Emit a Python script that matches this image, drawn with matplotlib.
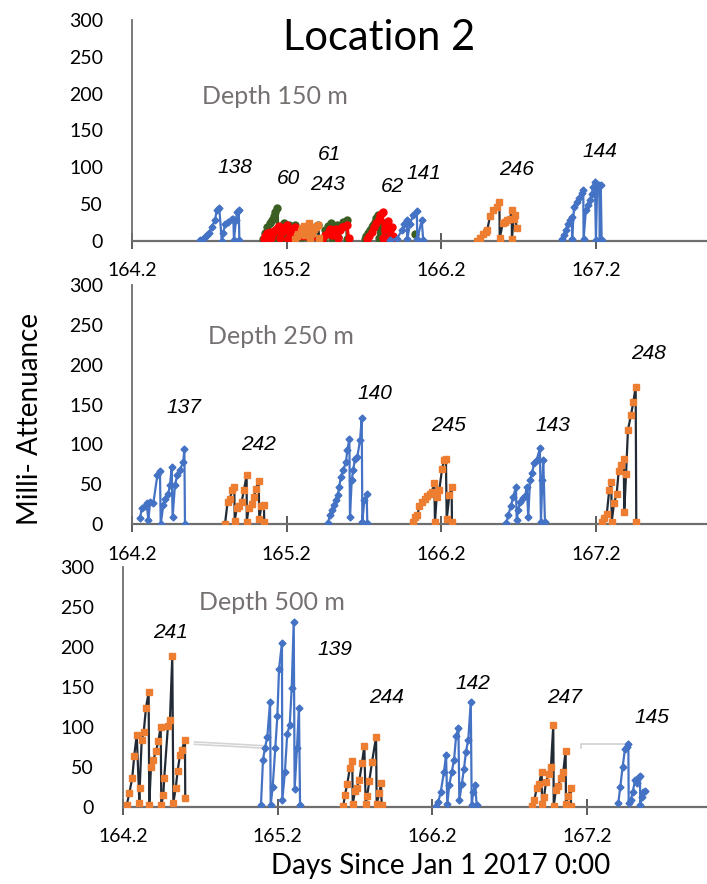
import numpy as np
import matplotlib.pyplot as plt

# ---- data (days since Jan 1 2017, milli-attenuance) ----

# Depth 150 m
s138_x = [164.638, 164.656, 164.671, 164.682, 164.696, 164.714, 164.736, 164.746, 164.763, 164.779,
          164.789, 164.800, 164.821, 164.843, 164.854, 164.858, 164.871, 164.879, 164.889, 164.893]
s138_y = [1, 2, 5, 8, 10, 19, 28, 42, 44, 0, 10, 23, 26, 29, 30, 1, 28, 39, 42, 1]

g60_x = [165.044, 165.060, 165.074, 165.090, 165.102, 165.114, 165.124, 165.139, 165.142, 165.156,
         165.170, 165.180, 165.190, 165.200, 165.215, 165.225, 165.240, 165.255, 165.260, 165.300,
         165.320, 165.340, 165.345, 165.360, 165.380, 165.400, 165.405, 165.436, 165.450, 165.469,
         165.485, 165.490, 165.500, 165.523, 165.530, 165.544, 165.566, 165.587, 165.590]
g60_y = [2, 10, 18, 24, 28, 34, 39, 44, 2, 12, 20, 24, 2, 14, 22, 2, 16, 22, 2, 5,
         14, 20, 3, 12, 18, 22, 3, 2, 14, 20, 24, 4, 18, 22, 5, 20, 25, 28, 2]

r61_x = [165.050, 165.060, 165.074, 165.090, 165.100, 165.110, 165.125, 165.140, 165.150, 165.155,
         165.170, 165.180, 165.190, 165.200, 165.210, 165.220, 165.235, 165.250, 165.255, 165.430,
         165.450, 165.470, 165.480, 165.490, 165.500, 165.520, 165.530, 165.545, 165.560, 165.575,
         165.590, 165.600]
r61_y = [2, 6, 10, 12, 4, 10, 14, 18, 20, 3, 12, 16, 19, 22, 2, 12, 16, 18, 3, 2,
         8, 13, 16, 8, 14, 16, 4, 14, 18, 20, 21, 3]

s243_x = [165.253, 165.265, 165.275, 165.290, 165.300, 165.311, 165.320, 165.330, 165.340, 165.345,
          165.350, 165.360, 165.375, 165.390, 165.400, 165.410]
s243_y = [2, 6, 9, 13, 17, 20, 8, 14, 20, 24, 4, 10, 16, 19, 21, 3]

g62_x = [165.706, 165.715, 165.727, 165.740, 165.749, 165.760, 165.770, 165.780, 165.790, 165.795,
         165.810, 165.820, 165.830, 165.835, 165.850, 165.860, 165.870]
g62_y = [2, 6, 10, 15, 18, 22, 26, 31, 35, 3, 14, 20, 24, 3, 10, 16, 3]
g_lone_x = [166.030]
g_lone_y = [9]

r62_x = [165.720, 165.735, 165.750, 165.765, 165.780, 165.795, 165.805, 165.815, 165.820, 165.825,
         165.835, 165.845, 165.855, 165.860, 165.870, 165.880, 165.885, 165.895]
r62_y = [2, 6, 12, 18, 24, 30, 35, 38, 39, 3, 14, 22, 27, 4, 14, 18, 6, 2]

s141_x = [165.868, 165.911, 165.944, 165.960, 165.976, 165.980, 165.997, 166.019, 166.041, 166.045,
          166.073, 166.083]
s141_y = [1, 2, 14, 23, 28, 2, 23, 35, 41, 2, 28, 1]

s246_x = [166.433, 166.450, 166.468, 166.490, 166.498, 166.515, 166.537, 166.559, 166.576, 166.578,
          166.598, 166.613, 166.628, 166.645, 166.656, 166.657, 166.668, 166.677, 166.688]
s246_y = [0, 4, 9, 12, 15, 33, 42, 46, 52, 3, 24, 26, 28, 30, 42, 2, 30, 35, 17]

s144_x = [166.979, 166.994, 167.007, 167.018, 167.033, 167.044, 167.047, 167.059, 167.076, 167.093,
          167.109, 167.119, 167.121, 167.136, 167.147, 167.162, 167.173, 167.183, 167.194, 167.201,
          167.209, 167.222, 167.226, 167.232, 167.238]
s144_y = [2, 8, 15, 23, 28, 32, 2, 46, 53, 58, 65, 69, 2, 42, 48, 55, 64, 73, 80, 1,
          74, 76, 1, 76, 1]

# Depth 250 m
s137_x = [164.250, 164.261, 164.282, 164.293, 164.304, 164.315, 164.336, 164.362, 164.379, 164.384,
          164.401, 164.414, 164.433, 164.444, 164.455, 164.461, 164.476, 164.491, 164.509, 164.530,
          164.537, 164.541]
s137_y = [7, 20, 22, 26, 5, 27, 26, 61, 67, 0, 24, 31, 38, 49, 71, 9, 49, 61, 68, 78, 94, 0]

s242_x = [164.800, 164.817, 164.832, 164.847, 164.860, 164.863, 164.876, 164.890, 164.908, 164.923,
          164.940, 164.941, 164.953, 164.973, 164.988, 164.999, 165.018, 165.022, 165.035, 165.052,
          165.054]
s242_y = [0, 28, 32, 43, 47, 4, 20, 23, 28, 43, 61, 3, 20, 25, 34, 44, 54, 6, 22, 24, 2]

s140_x = [165.465, 165.480, 165.494, 165.507, 165.518, 165.529, 165.540, 165.549, 165.566, 165.583,
          165.592, 165.605, 165.609, 165.620, 165.630, 165.641, 165.656, 165.674, 165.685, 165.689,
          165.702, 165.717, 165.721]
s140_y = [1, 11, 17, 24, 30, 36, 47, 59, 68, 78, 93, 107, 9, 55, 68, 82, 84, 105, 133, 3,
          30, 38, 1]

s245_x = [166.019, 166.030, 166.045, 166.058, 166.077, 166.095, 166.109, 166.127, 166.138, 166.155,
          166.159, 166.170, 166.187, 166.205, 166.218, 166.230, 166.235, 166.252, 166.267, 166.269]
s245_y = [3, 9, 11, 22, 28, 31, 35, 38, 40, 51, 2, 34, 43, 69, 80, 81, 6, 36, 46, 2]

s143_x = [166.619, 166.634, 166.649, 166.666, 166.683, 166.688, 166.698, 166.709, 166.727, 166.744,
          166.753, 166.763, 166.774, 166.787, 166.800, 166.817, 166.838, 166.845, 166.854, 166.860,
          166.871]
s143_y = [1, 11, 22, 34, 47, 5, 18, 27, 33, 35, 47, 9, 55, 64, 76, 80, 95, 3, 55, 80, 2]

s248_x = [167.238, 167.253, 167.271, 167.287, 167.300, 167.303, 167.318, 167.335, 167.348, 167.361,
          167.381, 167.384, 167.396, 167.408, 167.428, 167.443, 167.458, 167.462]
s248_y = [3, 7, 12, 43, 53, 3, 26, 38, 66, 74, 82, 15, 63, 118, 137, 153, 172, 3]

# Depth 500 m
s241_x = [164.222, 164.239, 164.258, 164.271, 164.287, 164.304, 164.306, 164.319, 164.332, 164.347,
          164.364, 164.368, 164.379, 164.394, 164.412, 164.427, 164.442, 164.446, 164.459, 164.465,
          164.489, 164.502, 164.517, 164.524, 164.539, 164.552, 164.567, 164.580, 164.599, 164.601]
s241_y = [2, 17, 36, 64, 90, 5, 23, 83, 93, 124, 143, 2, 50, 58, 70, 82, 100, 2, 15, 36,
          101, 108, 188, 5, 23, 45, 65, 71, 84, 11]

s139_x = [165.091, 165.104, 165.117, 165.132, 165.150, 165.154, 165.167, 165.184, 165.197, 165.208,
          165.227, 165.229, 165.246, 165.261, 165.277, 165.290, 165.303, 165.309, 165.324, 165.337,
          165.344]
s139_y = [2, 58, 74, 87, 131, 2, 25, 74, 113, 172, 205, 8, 43, 91, 102, 148, 231, 22, 73, 124, 2]

s244_x = [165.624, 165.635, 165.650, 165.667, 165.682, 165.685, 165.700, 165.711, 165.728, 165.745,
          165.760, 165.769, 165.779, 165.792, 165.810, 165.836, 165.840, 165.857, 165.868, 165.872]
s244_y = [1, 15, 29, 49, 57, 3, 20, 24, 33, 55, 76, 3, 14, 32, 56, 87, 3, 17, 30, 2]

s142_x = [166.224, 166.239, 166.254, 166.276, 166.289, 166.297, 166.310, 166.326, 166.341, 166.354,
          166.369, 166.375, 166.391, 166.405, 166.418, 166.433, 166.449, 166.455, 166.465, 166.478,
          166.487]
s142_y = [1, 6, 18, 44, 65, 3, 27, 44, 59, 88, 99, 8, 29, 47, 69, 84, 131, 2, 19, 27, 2]

s247_x = [166.843, 166.860, 166.876, 166.891, 166.908, 166.910, 166.923, 166.936, 166.953, 166.968,
          166.983, 166.986, 167.000, 167.016, 167.031, 167.048, 167.063, 167.065, 167.080, 167.096,
          167.098]
s247_y = [1, 8, 23, 28, 44, 3, 12, 31, 41, 50, 102, 1, 21, 26, 36, 44, 70, 3, 13, 23, 1]

s145_x = [167.404, 167.417, 167.432, 167.447, 167.458, 167.469, 167.471, 167.484, 167.497, 167.512,
          167.523, 167.533, 167.544, 167.546, 167.555, 167.566, 167.577]
s145_y = [5, 25, 50, 72, 75, 79, 5, 8, 18, 33, 30, 36, 38, 2, 12, 18, 20]

# faint connector lines (depth 500 m)
faint1_x = [164.66, 165.13]
faint1_y = [81, 76]
faint2_x = [167.16, 167.16, 167.44]
faint2_y = [74, 79, 79]

# float labels (text, x, y)
labels_150 = [("138", 164.867, 99), ("60", 165.211, 85), ("61", 165.473, 117), ("243", 165.462, 77),
              ("62", 165.884, 74), ("141", 166.087, 91), ("246", 166.688, 97), ("144", 167.229, 121)]
labels_250 = [("137", 164.536, 146), ("242", 165.018, 100), ("140", 165.770, 164),
              ("245", 166.247, 124), ("143", 166.921, 124), ("248", 167.542, 214)]
labels_500 = [("241", 164.507, 218), ("139", 165.570, 196), ("244", 165.902, 137),
              ("142", 166.465, 154), ("247", 167.059, 137), ("145", 167.620, 112)]

xticks = [164.2, 165.2, 166.2, 167.2]
yticks = [0, 50, 100, 150, 200, 250, 300]

# ---- styles ----
BLUE = '#4472C4'
ORANGE = '#ED7D31'
DARK = '#222A35'
GREEN = '#3B5E22'
RED = '#FF0000'
GREY_TXT = '#767171'


def blue(ax, x, y):
    ax.plot(x, y, color=BLUE, lw=1.6, marker='D', ms=3.5, mfc=BLUE, mec=BLUE, zorder=3)


def orange(ax, x, y):
    ax.plot(x, y, color=DARK, lw=1.6, marker='s', ms=4.8, mfc=ORANGE, mec=ORANGE, zorder=3)


def dots(ax, x, y, c):
    ax.plot(x, y, color=c, lw=2.2, marker='o', ms=5, mfc=c, mec=c, zorder=3)


def style(ax, xmax):
    ax.set_xlim(164.2, xmax)
    ax.set_ylim(0, 300)
    ax.set_xticks(xticks)
    ax.set_xticklabels([str(t) for t in xticks])
    ax.set_yticks(yticks)
    for s in ['top', 'right']:
        ax.spines[s].set_visible(False)
    ax.spines['left'].set_color('#6e6e6e')
    ax.spines['left'].set_linewidth(1.3)
    ax.spines['bottom'].set_color('#6e6e6e')
    ax.spines['bottom'].set_linewidth(1.6)
    ax.tick_params(axis='x', direction='inout', length=11, width=1.2, color='#404040',
                   pad=10, labelsize=14)
    ax.tick_params(axis='y', length=0, pad=21, labelsize=14)
    for lab in ax.get_xticklabels() + ax.get_yticklabels():
        lab.set_fontfamily('Lato')
    ax.patch.set_alpha(0)


def put_labels(ax, labs):
    for t, x, y in labs:
        ax.text(x, y, t, fontsize=15, style='italic', family='Liberation Sans',
                ha='center', va='center', color='black')


W, H = 707, 884
fig = plt.figure(figsize=(W / 100, H / 100), dpi=100)

ax1 = fig.add_axes([132.3 / W, 1 - 240.7 / H, (W - 132.3) / W, 220.7 / H])
ax2 = fig.add_axes([132.3 / W, 1 - 524 / H, (W - 132.3) / W, 239 / H])
ax3 = fig.add_axes([123.3 / W, 1 - 806.7 / H, (W - 123.3) / W, 240 / H])

# panel 1
blue(ax1, s138_x, s138_y)
dots(ax1, g60_x, g60_y, GREEN)
dots(ax1, r61_x, r61_y, RED)
orange(ax1, s243_x, s243_y)
dots(ax1, g62_x, g62_y, GREEN)
ax1.plot(g_lone_x, g_lone_y, 'o', color=GREEN, ms=5, zorder=3)
dots(ax1, r62_x, r62_y, RED)
blue(ax1, s141_x, s141_y)
orange(ax1, s246_x, s246_y)
blue(ax1, s144_x, s144_y)
put_labels(ax1, labels_150)
style(ax1, 164.2 + (W - 132.3) / 154.5)

# panel 2
blue(ax2, s137_x, s137_y)
orange(ax2, s242_x, s242_y)
blue(ax2, s140_x, s140_y)
orange(ax2, s245_x, s245_y)
blue(ax2, s143_x, s143_y)
orange(ax2, s248_x, s248_y)
put_labels(ax2, labels_250)
style(ax2, 164.2 + (W - 132.3) / 154.5)

# panel 3
ax3.plot(faint1_x, faint1_y, color='#d4d4d4', lw=1.2, zorder=2)
ax3.plot(faint1_x, [v - 3 for v in faint1_y], color='#d4d4d4', lw=1.2, zorder=2)
ax3.plot(faint2_x, faint2_y, color='#d0d0d0', lw=1.2, zorder=2)
orange(ax3, s241_x, s241_y)
blue(ax3, s139_x, s139_y)
orange(ax3, s244_x, s244_y)
blue(ax3, s142_x, s142_y)
orange(ax3, s247_x, s247_y)
blue(ax3, s145_x, s145_y)
put_labels(ax3, labels_500)
style(ax3, 164.2 + (W - 123.3) / 154.5)

# panel titles
fig.text(274.5 / W, 1 - 96 / H, 'Depth 150 m', fontsize=18, color=GREY_TXT, family='Lato',
         ha='center', va='center')
fig.text(281 / W, 1 - 337 / H, 'Depth 250 m', fontsize=18, color=GREY_TXT, family='Lato',
         ha='center', va='center')
fig.text(271.5 / W, 1 - 603 / H, 'Depth 500 m', fontsize=18, color=GREY_TXT, family='Lato',
         ha='center', va='center')

fig.text(379 / W, 1 - 38 / H, 'Location 2', fontsize=30, family='Lato', ha='center', va='center')
fig.text(30 / W, 1 - 419 / H, 'Milli- Attenuance', fontsize=20, family='Lato', rotation=90,
         ha='center', va='center')
fig.text(441 / W, 1 - 866 / H, 'Days Since Jan 1 2017 0:00', fontsize=20, family='Lato',
         ha='center', va='center')

fig.savefig('out.png', dpi=100)
